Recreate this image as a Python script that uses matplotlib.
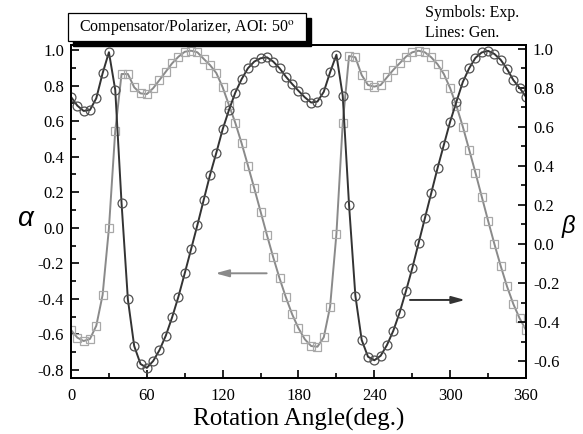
import numpy as np
import matplotlib
matplotlib.use("Agg")
import matplotlib.pyplot as plt
from matplotlib.patches import Rectangle
from matplotlib.ticker import MultipleLocator, FormatStrFormatter

plt.rcParams["font.family"] = ["Liberation Serif", "DejaVu Serif"]
plt.rcParams["mathtext.fontset"] = "stix"
plt.rcParams["axes.unicode_minus"] = False

# rotation angle, 5 deg steps
angle = np.arange(0, 361, 5)

# alpha (squares, left axis)
alpha = [-0.575, -0.618, -0.637, -0.625, -0.551, -0.378, -0.003, 0.546, 0.865, 0.865,
         0.790, 0.756, 0.752, 0.785, 0.831, 0.878, 0.925, 0.962, 0.990, 0.996,
         0.987, 0.950, 0.915, 0.870, 0.790, 0.690, 0.590, 0.475, 0.350, 0.222,
         0.091, -0.040, -0.166, -0.284, -0.391, -0.487, -0.565, -0.627, -0.665, -0.669,
         -0.616, -0.444, -0.035, 0.588, 0.966, 0.959, 0.859, 0.803, 0.794, 0.803,
         0.846, 0.888, 0.925, 0.962, 0.987, 0.996, 0.987, 0.959, 0.920, 0.865,
         0.785, 0.685, 0.569, 0.440, 0.310, 0.175, 0.040, -0.091, -0.215, -0.330,
         -0.429, -0.510, -0.575]

# beta (circles, right axis)
beta = [0.754, 0.709, 0.682, 0.687, 0.747, 0.875, 0.983, 0.790, 0.209, -0.284,
        -0.523, -0.615, -0.635, -0.600, -0.544, -0.470, -0.376, -0.270, -0.150, -0.027,
        0.097, 0.226, 0.354, 0.468, 0.588, 0.687, 0.776, 0.845, 0.901, 0.935,
        0.952, 0.957, 0.935, 0.901, 0.858, 0.820, 0.785, 0.752, 0.725, 0.730,
        0.780, 0.880, 0.970, 0.760, 0.200, -0.265, -0.492, -0.578, -0.596, -0.573,
        -0.518, -0.445, -0.352, -0.242, -0.125, 0.004, 0.132, 0.260, 0.388, 0.508,
        0.627, 0.730, 0.830, 0.900, 0.954, 0.982, 0.990, 0.974, 0.944, 0.897,
        0.840, 0.800, 0.754]

fig = plt.figure(figsize=(5.83, 4.34), dpi=100)
ax = fig.add_axes([0.1218, 0.129, 0.7804, 0.7673])
ax2 = ax.twinx()

ax.plot(angle, alpha, color="#8a8a8a", lw=1.4, marker="s", ms=5.4,
        mfc="none", mec="#a8a8a8", mew=0.9)
ax2.plot(angle, beta, color="#333333", lw=1.4, marker="o", ms=6.4,
         mfc="none", mec="#505050", mew=0.9)

ax.set_xlim(0, 360)
ax.set_ylim(-0.845, 1.028)
ax2.set_ylim(-0.687, 1.02)

ax.xaxis.set_major_locator(MultipleLocator(60))
ax.xaxis.set_minor_locator(MultipleLocator(30))
for a in (ax, ax2):
    a.yaxis.set_major_locator(MultipleLocator(0.2))
    a.yaxis.set_minor_locator(MultipleLocator(0.1))
    a.yaxis.set_major_formatter(FormatStrFormatter("%.1f"))
    for s in a.spines.values():
        s.set_linewidth(1.3)

ax.tick_params(which="both", direction="in", top=False, right=False, labelsize=12, width=1.2)
ax.tick_params(which="major", length=6, pad=5)
ax.tick_params(which="minor", length=3.5)
ax.tick_params(axis="x", which="major", pad=7)
ax2.tick_params(which="both", direction="in", labelsize=12, width=1.2)
ax2.tick_params(which="major", length=6, pad=5)
ax2.tick_params(which="minor", length=3.5)

ax.set_xlabel("Rotation Angle(deg.)", fontsize=18, labelpad=3)

fig.text(25 / 583, 1 - 219 / 434, "α", fontsize=20, style="italic",
         family=["Liberation Sans", "DejaVu Sans"], ha="center", va="center")
fig.text(568 / 583, 1 - 227 / 434, "β", fontsize=17, style="italic",
         family=["Liberation Sans", "DejaVu Sans"], ha="center", va="center")

# arrows pointing to each axis
ax.annotate("", xy=(112, -0.256), xytext=(157, -0.256),
            arrowprops=dict(arrowstyle="-|>,head_length=0.8,head_width=0.22",
                            color="#8a8a8a", lw=1.4))
ax.annotate("", xy=(314, -0.406), xytext=(266, -0.406),
            arrowprops=dict(arrowstyle="-|>,head_length=0.8,head_width=0.22",
                            color="#333333", lw=1.4))

# title box with drop shadow
bx, by, bw, bh = 68 / 583, 1 - 40.7 / 434, 238 / 583, 27.7 / 434
fig.patches.append(Rectangle((bx + 5 / 583, by - 5 / 434), bw, bh, transform=fig.transFigure,
                             facecolor="black", edgecolor="black", zorder=5))
fig.patches.append(Rectangle((bx, by), bw, bh, transform=fig.transFigure,
                             facecolor="white", edgecolor="black", lw=0.9, zorder=6))
fig.text(bx + bw / 2, by + bh / 2, "Compensator/Polarizer, AOI: 50$^{\\rm o}$",
         fontsize=11.5, ha="center", va="center", zorder=7)

fig.text(425 / 583, 1 - 13 / 434, "Symbols: Exp.", fontsize=11.5, ha="left", va="center")
fig.text(425 / 583, 1 - 33 / 434, "Lines: Gen.", fontsize=11.5, ha="left", va="center")

fig.savefig("out.png", dpi=100)
